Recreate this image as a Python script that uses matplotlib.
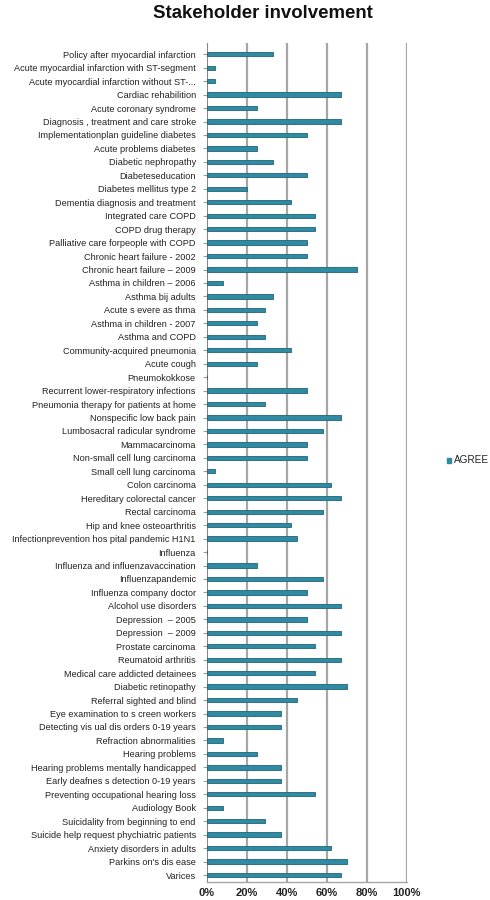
import matplotlib
matplotlib.use("Agg")
import matplotlib.pyplot as plt

plt.rcParams['font.family'] = ['Liberation Sans', 'DejaVu Sans']

categories = [
    "Policy after myocardial infarction",
    "Acute myocardial infarction with ST-segment",
    "Acute myocardial infarction without ST-...",
    "Cardiac rehabilition",
    "Acute coronary syndrome",
    "Diagnosis , treatment and care stroke",
    "Implementationplan guideline diabetes",
    "Acute problems diabetes",
    "Diabetic nephropathy",
    "Diabeteseducation",
    "Diabetes mellitus type 2",
    "Dementia diagnosis and treatment",
    "Integrated care COPD",
    "COPD drug therapy",
    "Palliative care forpeople with COPD",
    "Chronic heart failure - 2002",
    "Chronic heart failure \u2013 2009",
    "Asthma in children \u2013 2006",
    "Asthma bij adults",
    "Acute s evere as thma",
    "Asthma in children - 2007",
    "Asthma and COPD",
    "Community-acquired pneumonia",
    "Acute cough",
    "Pneumokokkose",
    "Recurrent lower-respiratory infections",
    "Pneumonia therapy for patients at home",
    "Nonspecific low back pain",
    "Lumbosacral radicular syndrome",
    "Mammacarcinoma",
    "Non-small cell lung carcinoma",
    "Small cell lung carcinoma",
    "Colon carcinoma",
    "Hereditary colorectal cancer",
    "Rectal carcinoma",
    "Hip and knee osteoarthritis",
    "Infectionprevention hos pital pandemic H1N1",
    "Influenza",
    "Influenza and influenzavaccination",
    "Influenzapandemic",
    "Influenza company doctor",
    "Alcohol use disorders",
    "Depression  \u2013 2005",
    "Depression  \u2013 2009",
    "Prostate carcinoma",
    "Reumatoid arthritis",
    "Medical care addicted detainees",
    "Diabetic retinopathy",
    "Referral sighted and blind",
    "Eye examination to s creen workers",
    "Detecting vis ual dis orders 0-19 years",
    "Refraction abnormalities",
    "Hearing problems",
    "Hearing problems mentally handicapped",
    "Early deafnes s detection 0-19 years",
    "Preventing occupational hearing loss",
    "Audiology Book",
    "Suicidality from beginning to end",
    "Suicide help request phychiatric patients",
    "Anxiety disorders in adults",
    "Parkins on's dis ease",
    "Varices",
]

agree = [
    33, 4, 4, 67, 25, 67, 50, 25, 33, 50,
    20, 42, 54, 54, 50, 50, 75, 8, 33, 29,
    25, 29, 42, 25, 0, 50, 29, 67, 58, 50,
    50, 4, 62, 67, 58, 42, 45, 0, 25, 58,
    50, 67, 50, 67, 54, 67, 54, 70, 45, 37,
    37, 8, 25, 37, 37, 54, 8, 29, 37, 62,
    70, 67,
]

xticks = [0, 20, 40, 60, 80, 100]
xticklabels = ["0%", "20%", "40%", "60%", "80%", "100%"]

fig = plt.figure(figsize=(4.9, 9), dpi=100)
ax = fig.add_axes([0.4224, 0.02, 0.408, 0.932])

pos = list(range(len(categories)))
ax.barh(pos, agree, height=0.32, color="#2F8AA3", edgecolor="#1F6577",
        linewidth=0.6, zorder=3)

ax.set_xlim(0, 100)
ax.set_ylim(61.52, -0.82)
ax.set_xticks(xticks)
ax.set_xticklabels(xticklabels, fontsize=8, fontweight="bold", color="#222222")
ax.set_yticks(pos)
ax.set_yticklabels(categories, fontsize=6.6, color="#222222")
ax.tick_params(axis="y", length=3, width=0.6, color="#888888", pad=5)
ax.tick_params(axis="x", length=0, pad=4)

for x in xticks[1:]:
    ax.axvline(x, color="#a6a6a6", linewidth=1.6, zorder=1)

for side in ["top", "right"]:
    ax.spines[side].set_visible(False)
ax.spines["left"].set_color("#888888")
ax.spines["left"].set_linewidth(0.8)
ax.spines["bottom"].set_color("#a6a6a6")
ax.spines["bottom"].set_linewidth(1.0)

fig.text(0.537, 0.985, "Stakeholder involvement", ha="center", va="center",
         fontsize=13.4, fontweight="bold", color="#111111")

# legend
fig.patches.append(plt.Rectangle((0.912, 0.486), 0.009, 0.0055,
                                 transform=fig.transFigure, color="#2F8AA3"))
fig.text(0.926, 0.489, "AGREE", ha="left", va="center", fontsize=7.2,
         color="#222222")

fig.savefig("out.png", dpi=100)
